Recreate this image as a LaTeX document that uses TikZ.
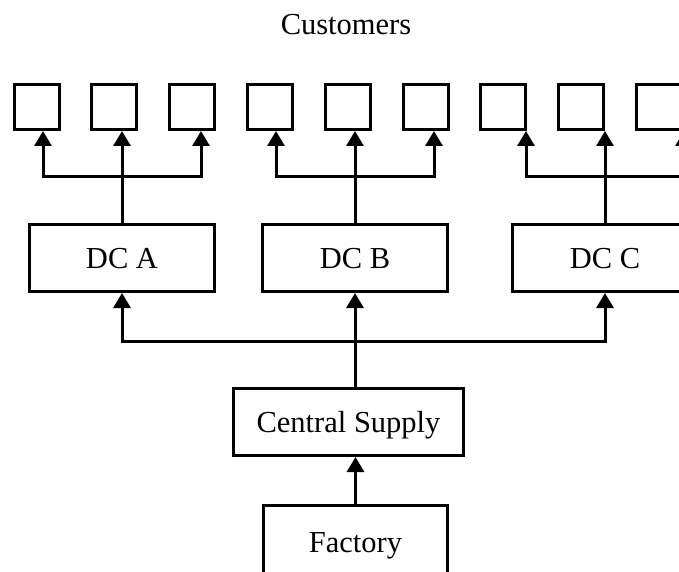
\documentclass[tikz,border=0pt]{standalone}
\usepackage{fontspec}
\setmainfont{Liberation Serif}
\usetikzlibrary{calc,arrows.meta}
\newcommand\customer[2]{%
\node[cust] (c#1) at ({#2},107) {};
}

\begin{document}
\begin{tikzpicture}[x=1pt,y=-1pt,line width=3pt,
	every node/.style={font=\fontsize{30.5}{36}\selectfont},
	site/.style={draw,inner sep=0pt,text height=20pt,text depth=0pt,minimum height=67pt},
	cust/.style={draw,inner sep=0pt,minimum width=45pt,minimum height=45pt},
	feed/.style={-{Triangle[width=17pt,length=15pt]}}]
	%% page frame
	\clip (0,0) rectangle (679,572);

	\def\gap{77.8} % spacing of customer boxes
	\def\fan{79} % half width of each fan

	\node[anchor=base] (title) at (346,35) {Customers};
	\foreach \i in {1,...,9}{\customer{\i}{36.5+(\i-1)*\gap}}

	\node[site,minimum width=185pt] (dcA) at (122,258) {DC A};
	\node[site,minimum width=185pt] (dcB) at (355,258) {DC B};
	\node[site,minimum width=185pt] (dcC) at (605,258) {DC C};
	\node[site,minimum width=230pt] (supply) at (348.5,422) {Central Supply};
	\node[site,minimum width=184pt,minimum height=73pt] (factory) at (355.5,542) {Factory};

	% DC -> customers
	\foreach \dc/\l/\m/\r in {dcA/1/2/3,dcB/4/5/6,dcC/7/8/9}{
		\draw (\dc.north) -- ++(0,-47) coordinate (\dc-bus);
		\draw[feed] (\dc-bus) -- (\dc-bus |- c\m.south);
		\draw[feed] (\dc-bus) -| ($(\dc-bus |- c\l.south)+(-\fan,0)$);
		\draw[feed] (\dc-bus) -| ($(\dc-bus |- c\r.south)+(\fan,0)$);
	}

	% supply -> DCs
	\coordinate (hub) at (355,341);
	\draw[feed] (factory.north) -- (factory.north |- supply.south);
	\draw[feed] (supply.north -| hub) -- (dcB.south);
	\draw[feed] (hub) -| (dcA.south);
	\draw[feed] (hub) -| (dcC.south);
\end{tikzpicture}
\end{document}
